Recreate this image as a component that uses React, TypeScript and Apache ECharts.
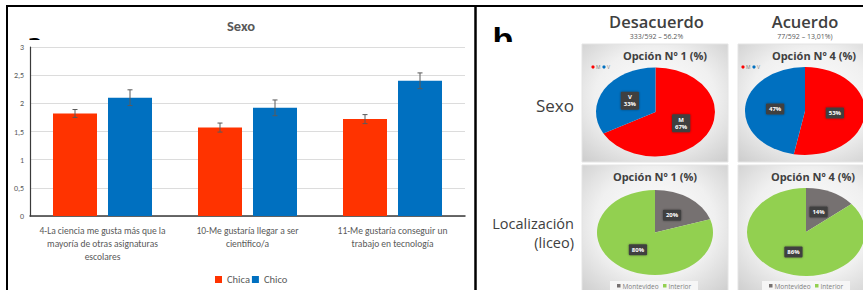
import React, { useEffect, useRef } from 'react';
import * as echarts from 'echarts';

// ---------- data ----------
const categories = [
  '4-La ciencia me gusta más que la\nmayoría de otras asignaturas\nescolares',
  '10-Me gustaría llegar a ser\ncientífico/a',
  '11-Me gustaría conseguir un\ntrabajo en tecnología',
];
const seriesNames = ['Chica', 'Chico'];
const chicaValues = [1.82, 1.57, 1.72];
const chicoValues = [2.1, 1.92, 2.4];
const chicaErrors = [0.07, 0.08, 0.08];
const chicoErrors = [0.14, 0.14, 0.14];
const yMin = 0;
const yMax = 3;
const yInterval = 0.5;

const sexoNames = ['M', 'V'];
const sexoDesacuerdo = [67, 33];
const sexoAcuerdo = [53, 47];
const locNames = ['Montevideo', 'Interior'];
const locDesacuerdo = [20, 80];
const locAcuerdo = [14, 86];

const colTitles = ['Desacuerdo', 'Acuerdo'];
const colSubtitles = ['333/592 – 56.2%', '77/592 – 13,01%)'];
const pieTitles = ['Opción Nº 1 (%)', 'Opción Nº 4 (%)'];
const rowLabels = ['Sexo', 'Localización', '(liceo)'];

// ---------- styles ----------
const FONT = 'Carlito, Lato, "Open Sans", sans-serif';
const FONT_R = '"Open Sans", Lato, sans-serif';
const RED = '#FF3300';
const BLUE = '#0070C0';
const BAR_W = 44;
const BAR_GAP = 11;

function pieSeries(values: number[], names: string[], colors: string[], showName: boolean, cx: number, cy: number, rx: number, ry: number) {
  const total = values.reduce((a, b) => a + b, 0);
  return {
    type: 'custom',
    coordinateSystem: 'none',
    silent: true,
    z: 5,
    data: values.map((v, i) => ({ name: names[i], value: v })),
    renderItem: (params: any, api: any) => {
      const i = params.dataIndex;
      let before = 0;
      for (let k = 0; k < i; k++) before += values[k];
      const v = api.value(0);
      const a0 = (before / total) * Math.PI * 2 - Math.PI / 2;
      const a1 = ((before + v) / total) * Math.PI * 2 - Math.PI / 2;
      const mid = (a0 + a1) / 2;
      const lx = cx + Math.cos(mid) * rx * 0.5;
      const ly = cy + Math.sin(mid) * ry * 0.5;
      const text = showName ? names[i] + '\n' + v + '%' : v + '%';
      return {
        type: 'group',
        children: [
          {
            type: 'sector',
            x: cx,
            y: cy,
            scaleY: ry / rx,
            shape: { cx: 0, cy: 0, r: rx, r0: 0, startAngle: a0, endAngle: a1, clockwise: true },
            style: { fill: colors[i] },
          },
          {
            type: 'text',
            z2: 10,
            style: {
              text,
              x: lx,
              y: ly,
              fill: '#ffffff',
              fontSize: 6,
              fontWeight: 'bold',
              fontFamily: FONT_R,
              align: 'center',
              verticalAlign: 'middle',
              lineHeight: 7,
              backgroundColor: '#404040',
              padding: [2, 3],
              borderRadius: 1,
              shadowColor: 'rgba(0,0,0,0.4)',
              shadowBlur: 2,
            },
          },
        ],
      };
    },
  };
}

function errorSeries(values: number[], errors: number[], sign: number) {
  return {
    type: 'custom',
    z: 4,
    silent: true,
    data: values.map((v, i) => [i, v, errors[i]]),
    renderItem: (params: any, api: any) => {
      const idx = api.value(0);
      const v = api.value(1);
      const e = api.value(2);
      const top = api.coord([idx, v + e]);
      const bot = api.coord([idx, v - e]);
      const x = top[0] + (sign * (BAR_W + BAR_GAP)) / 2;
      const st = { stroke: '#5a5a5a', lineWidth: 1 };
      return {
        type: 'group',
        children: [
          { type: 'line', shape: { x1: x, y1: top[1], x2: x, y2: bot[1] }, style: st },
          { type: 'line', shape: { x1: x - 2.5, y1: top[1], x2: x + 2.5, y2: top[1] }, style: st },
          { type: 'line', shape: { x1: x - 2.5, y1: bot[1], x2: x + 2.5, y2: bot[1] }, style: st },
        ],
      };
    },
  };
}

function boxGradient() {
  return new echarts.graphic.RadialGradient(0.5, 0.45, 0.75, [
    { offset: 0, color: '#ffffff' },
    { offset: 0.55, color: '#f0f0f0' },
    { offset: 1, color: '#cbcbcb' },
  ]);
}

export default function App() {
  const ref = useRef<HTMLDivElement>(null);
  useEffect(() => {
    if (!ref.current) return;
    const chart = echarts.init(ref.current, undefined, { renderer: 'svg' });

    const boxes = [
      { x: 582, y: 44, w: 146, h: 118 },
      { x: 738, y: 44, w: 146, h: 118 },
      { x: 582, y: 165, w: 146, h: 130 },
      { x: 738, y: 165, w: 146, h: 130 },
    ];

    const graphic: any[] = [];
    boxes.forEach((b) => {
      graphic.push({
        type: 'rect',
        z: -10,
        shape: { x: b.x, y: b.y, width: b.w, height: b.h },
        style: { fill: boxGradient(), stroke: '#e4e4e4', lineWidth: 1 },
      });
    });

    // partial panel letters (mostly hidden behind the panels)
    graphic.push({
      type: 'text', z: -4,
      style: { text: 'a', x: 35, y: 53, fontSize: 22, fontWeight: 'bold', fontFamily: '"DejaVu Sans", sans-serif', fill: '#000', align: 'center', verticalAlign: 'bottom' },
    });
    graphic.push({ type: 'rect', z: -3, shape: { x: 26, y: 40, width: 22, height: 18 }, style: { fill: '#ffffff' } });
    graphic.push({
      type: 'text', z: -4,
      style: { text: 'b', x: 503, y: 56, fontSize: 34, fontWeight: 'bold', fontFamily: '"Liberation Sans", sans-serif', fill: '#000', align: 'center', verticalAlign: 'bottom' },
    });
    graphic.push({ type: 'rect', z: -3, shape: { x: 486, y: 42, width: 36, height: 20 }, style: { fill: '#ffffff' } });

    // frame lines
    const frame = { stroke: '#000', lineWidth: 2 };
    graphic.push({ type: 'line', z: 20, shape: { x1: 6, y1: 6, x2: 863, y2: 6 }, style: frame });
    graphic.push({ type: 'line', z: 20, shape: { x1: 7, y1: 5, x2: 7, y2: 290 }, style: frame });
    graphic.push({ type: 'line', z: 20, shape: { x1: 475.5, y1: 5, x2: 475.5, y2: 290 }, style: { stroke: '#000', lineWidth: 2.5 } });

    // left chart title
    graphic.push({
      type: 'text',
      style: { text: 'Sexo', x: 241, y: 26, fontSize: 14.5, fontWeight: 'bold', fontFamily: FONT, fill: '#595959', align: 'center', verticalAlign: 'middle' },
    });

    // right panel column headers
    const colX = [656.5, 805];
    colTitles.forEach((t, i) => {
      graphic.push({
        type: 'text',
        style: { text: t, x: colX[i], y: 21.5, fontSize: 16.5, fontWeight: 600, fontFamily: FONT_R, fill: '#404040', align: 'center', verticalAlign: 'middle' },
      });
      graphic.push({
        type: 'text',
        style: { text: colSubtitles[i], x: colX[i], y: 36, fontSize: 7, fontFamily: FONT_R, fill: '#595959', align: 'center', verticalAlign: 'middle' },
      });
    });

    // row labels
    graphic.push({ type: 'text', style: { text: rowLabels[0], x: 574, y: 105, fontSize: 17, fontFamily: FONT_R, fill: '#404040', align: 'right', verticalAlign: 'middle' } });
    graphic.push({ type: 'text', style: { text: rowLabels[1], x: 574, y: 223, fontSize: 14.5, fontWeight: 500, fontFamily: FONT_R, fill: '#404040', align: 'right', verticalAlign: 'middle' } });
    graphic.push({ type: 'text', style: { text: rowLabels[2], x: 574, y: 242, fontSize: 14.5, fontWeight: 500, fontFamily: FONT_R, fill: '#404040', align: 'right', verticalAlign: 'middle' } });

    // pie titles
    const titlePos = [
      [665, 55],
      [814, 55],
      [655, 176],
      [813, 176],
    ];
    titlePos.forEach((p, i) => {
      graphic.push({
        type: 'text',
        style: { text: pieTitles[i % 2], x: p[0], y: p[1], fontSize: 11, fontWeight: 'bold', fontFamily: FONT_R, fill: '#404040', align: 'center', verticalAlign: 'middle' },
      });
    });

    // small legends top pies
    [593, 743].forEach((lx) => {
      graphic.push({ type: 'circle', shape: { cx: lx, cy: 67, r: 1.6 }, style: { fill: '#FF0000' } });
      graphic.push({ type: 'text', style: { text: sexoNames[0], x: lx + 3, y: 67, fontSize: 5, fontFamily: FONT_R, fill: '#7f7f7f', verticalAlign: 'middle' } });
      graphic.push({ type: 'circle', shape: { cx: lx + 11, cy: 67, r: 1.6 }, style: { fill: '#0070C0' } });
      graphic.push({ type: 'text', style: { text: sexoNames[1], x: lx + 14, y: 67, fontSize: 5, fontFamily: FONT_R, fill: '#7f7f7f', verticalAlign: 'middle' } });
    });

    // bottom legends
    [610, 762].forEach((lx) => {
      graphic.push({ type: 'rect', z: -5, shape: { x: lx, y: 281, width: 88, height: 10 }, style: { fill: '#f6f6f6' } });
      graphic.push({ type: 'rect', shape: { x: lx + 7, y: 284, width: 3.5, height: 3.5 }, style: { fill: '#767171' } });
      graphic.push({ type: 'text', style: { text: locNames[0], x: lx + 12.5, y: 286, fontSize: 6.5, fontFamily: FONT_R, fill: '#7f7f7f', verticalAlign: 'middle' } });
      graphic.push({ type: 'rect', shape: { x: lx + 53, y: 284, width: 3.5, height: 3.5 }, style: { fill: '#92D050' } });
      graphic.push({ type: 'text', style: { text: locNames[1], x: lx + 58.5, y: 286, fontSize: 6.5, fontFamily: FONT_R, fill: '#7f7f7f', verticalAlign: 'middle' } });
    });

    const option: any = {
      animation: false,
      backgroundColor: '#ffffff',
      grid: { left: 30, top: 47, width: 435, height: 169, containLabel: false },
      legend: {
        data: seriesNames,
        left: 210,
        top: 269,
        itemWidth: 7,
        itemHeight: 7,
        itemGap: 2,
        icon: 'rect',
        textStyle: { fontSize: 10.5, color: '#595959', fontFamily: FONT },
      },
      xAxis: {
        type: 'category',
        data: categories,
        axisLine: { lineStyle: { color: '#3a3a3a', width: 1.5 } },
        axisTick: { show: false },
        axisLabel: { interval: 0, fontSize: 9.5, lineHeight: 13.3, color: '#595959', margin: 8, fontFamily: FONT },
      },
      yAxis: {
        type: 'value',
        min: yMin,
        max: yMax,
        interval: yInterval,
        axisLine: { show: true, lineStyle: { color: '#3a3a3a', width: 1.2 } },
        axisTick: { show: false },
        splitLine: { lineStyle: { color: '#dcdcdc', width: 1 } },
        axisLabel: { fontSize: 8, color: '#595959', margin: 6, fontFamily: FONT, formatter: (v: number) => String(v).replace('.', ',') },
      },
      graphic,
      series: [
        { name: seriesNames[0], type: 'bar', data: chicaValues, barWidth: BAR_W, barGap: (BAR_GAP / BAR_W) * 100 + '%', itemStyle: { color: RED } },
        { name: seriesNames[1], type: 'bar', data: chicoValues, barWidth: BAR_W, itemStyle: { color: BLUE } },
        errorSeries(chicaValues, chicaErrors, -1),
        errorSeries(chicoValues, chicoErrors, 1),
        pieSeries(sexoDesacuerdo, sexoNames, ['#FF0000', '#0070C0'], true, 655.5, 112, 59.5, 44.5),
        pieSeries(sexoAcuerdo, sexoNames, ['#FF0000', '#0070C0'], false, 805, 111, 60, 44),
        pieSeries(locDesacuerdo, locNames, ['#767171', '#92D050'], false, 655, 232.5, 58, 42.5),
        pieSeries(locAcuerdo, locNames, ['#767171', '#92D050'], false, 806, 232, 59, 44),
      ],
    };
    chart.setOption(option);
    return () => chart.dispose();
  }, []);

  return <div ref={ref} style={{ position: 'absolute', left: 0, top: 0, width: 863, height: 290 }} />;
}
